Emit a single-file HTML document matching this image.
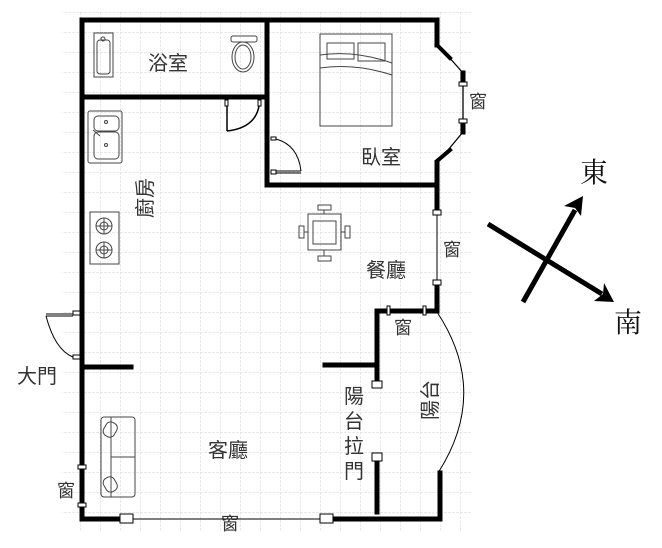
<!DOCTYPE html>
<html><head><meta charset="utf-8"><style>
html,body{margin:0;padding:0;background:#fff;}
svg{display:block;}
text{font-family:"Liberation Sans","Noto Sans CJK TC",sans-serif;fill:#333;}
.s{font-family:"Liberation Serif","Noto Serif CJK SC",serif;fill:#111;}
</style></head><body>
<svg width="662" height="548" viewBox="0 0 662 548" xmlns="http://www.w3.org/2000/svg">
<defs>
<pattern id="g" x="0" y="12" width="20" height="20" patternUnits="userSpaceOnUse">
<path d="M0 0H20M0 0V20" stroke="#d4d4d4" stroke-width="1" stroke-dasharray="3 1" fill="none"/>
</pattern>
</defs>
<rect x="62" y="12" width="410" height="520" fill="url(#g)"/>
<g stroke="#000" stroke-width="5" fill="none" stroke-linecap="square">
<path d="M82 20H437V45"/>
<path d="M82 20V519H127"/>
<path d="M333 519H440V473"/>
<path d="M437 163V212"/>
<path d="M437 283V311H377V383"/>
<path d="M377 458V512"/>
<path d="M82 97H265"/>
<path d="M267 20V185H437"/>
<path d="M82 367H131"/>
<path d="M325 365H377"/>
<path d="M437 45L450 58" stroke-width="4"/>
<path d="M437 161L450 150" stroke-width="4"/>
<path d="M463 73V84" stroke-width="5"/>
<path d="M463 121V132" stroke-width="5"/>
</g>
<g stroke="#000" stroke-width="1" fill="#fff">
<path d="M448 56L463 73M463 84V121M463 132L448 150" fill="none" stroke-width="1.3"/>
<rect x="459" y="82" width="8" height="4"/><rect x="459" y="119" width="8" height="4"/>
<path d="M437 212V283" fill="none"/>
<rect x="433" y="210" width="8" height="5"/><rect x="433" y="280" width="8" height="5"/>
<path d="M377 311H437" fill="none"/>
<rect x="387" y="306" width="3" height="9"/><rect x="423" y="306" width="3" height="9"/>
<path d="M437 312Q490 392 438 473" fill="none"/>
<rect x="372" y="381" width="10" height="7"/><rect x="372" y="453" width="10" height="8"/>
<path d="M82 467V505" fill="none"/>
<rect x="78" y="465" width="8" height="4"/><rect x="78" y="503" width="8" height="4"/>
<path d="M127 519H327" fill="none"/>
<rect x="120" y="514" width="13" height="9"/><rect x="320" y="514" width="13" height="9"/>
<rect x="73" y="311" width="7" height="4"/><rect x="73" y="355" width="7" height="4"/>
<path d="M46 314H73M46 316H73M46 316Q55 350 73 357" fill="none"/>
<rect x="225" y="100" width="3" height="6"/><rect x="258" y="100" width="3" height="6"/>
<path d="M227 106V131M227 131Q255 128 259 106" fill="none" stroke-width="1.5"/>
<rect x="271" y="137" width="5" height="3"/><rect x="271" y="170" width="5" height="4"/>
<path d="M276 171H301M276 173H301M276 139Q298 145 301 171" fill="none"/>
</g>
<g stroke="#444" stroke-width="1" fill="none">
<rect x="94" y="33" width="19" height="44"/><rect x="97" y="40" width="13" height="34" rx="3"/>
<circle cx="103" cy="39" r="2"/>
<rect x="231" y="36" width="26" height="6" rx="2"/><ellipse cx="243" cy="57" rx="11" ry="15"/><ellipse cx="243" cy="57" rx="8" ry="12"/>
<rect x="320" y="34" width="72" height="92"/><rect x="327" y="43" width="27" height="16"/><rect x="358" y="43" width="27" height="18"/>
<path d="M320 55Q355 50 392 63M320 68Q355 63 392 75"/>
<rect x="88" y="111" width="34" height="52" rx="2"/><rect x="94" y="116" width="25" height="15" rx="4"/><rect x="94" y="132" width="25" height="27" rx="4"/>
<circle cx="106" cy="122" r="1.5"/><circle cx="106" cy="145" r="1.5"/><path d="M93 130L100 136"/>
<rect x="90" y="212" width="29" height="52"/>
<circle cx="104" cy="226" r="8"/><circle cx="104" cy="226" r="4"/><path d="M96 226H112M104 218V234"/>
<circle cx="104" cy="250" r="8"/><circle cx="104" cy="250" r="4"/><path d="M96 250H112M104 242V258"/>
<rect x="308" y="214" width="33" height="36"/><rect x="313" y="221" width="23" height="23"/>
<rect x="318" y="205" width="13" height="5"/><rect x="318" y="256" width="13" height="5"/>
<rect x="299" y="226" width="5" height="12"/><rect x="345" y="226" width="5" height="12"/>
<path d="M324 210V214M324 250V256M304 232H308M341 232H345"/>
<rect x="101" y="417" width="34" height="80" rx="3"/><path d="M111 417V497M111 457H135"/>
<rect x="104" y="422" width="12" height="15" rx="5" transform="rotate(30 110 430)"/>
<rect x="104" y="477" width="12" height="15" rx="5" transform="rotate(-30 110 484)"/>
</g>
<g font-size="20">
<text x="148" y="70">浴室</text>
<text x="361" y="164">臥室</text>
<text x="366" y="277">餐廳</text>
<text x="208" y="457">客廳</text>
</g>
<text x="0" y="0" font-size="20" transform="translate(152,218) rotate(-90)">廚房</text>
<g font-size="18" class="s">
<text x="469" y="108">窗</text>
<text x="443" y="256">窗</text>
<text x="394" y="334">窗</text>
<text x="57" y="497">窗</text>
<text x="221" y="530">窗</text>
<text x="17" y="383" font-size="20">大門</text>
<text x="344" y="403" font-size="20">陽</text>
<text x="344" y="428" font-size="20">台</text>
<text x="344" y="453" font-size="20">拉</text>
<text x="344" y="478" font-size="20">門</text>
</g>
<text x="0" y="0" font-size="20" transform="translate(437,420) rotate(-90)">陽台</text>
<g stroke="#000" stroke-width="5">
<path d="M488 224L602 294"/><path d="M523 302L575 210"/>
</g>
<path d="M614 302L594 301L603 294L604 283Z" fill="#000"/>
<path d="M583 196L581 216L575 208L564 206Z" fill="#000"/>
<text x="580" y="182" font-size="28" class="s">東</text>
<text x="614" y="332" font-size="28" class="s">南</text>
</svg>
</body></html>
